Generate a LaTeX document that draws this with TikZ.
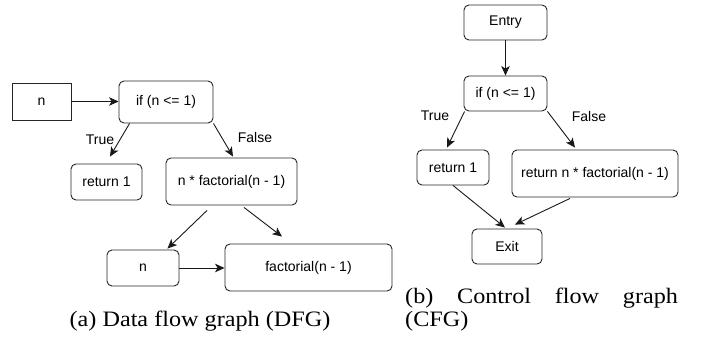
\documentclass[tikz,border=0pt]{standalone}
\usepackage{fontspec}
\usepackage{graphicx}
\setmainfont{Liberation Serif}
\newfontfamily\boxfont{Liberation Sans}
\usetikzlibrary{arrows.meta}
\tikzset{
  blk/.style={draw=black!85, line width=0.9pt, rounded corners=5pt, inner sep=0pt, align=center,
     font=\boxfont\fontsize{14}{16}\selectfont},
  sqblk/.style={blk, rounded corners=0pt},
  arr/.style={draw=black!90, line width=0.9pt, -{Stealth[length=9.5pt,width=8.5pt,inset=2.5pt]}},
  lbl/.style={font=\boxfont\fontsize{14}{16}\selectfont, inner sep=0pt},
  captxt/.style={font=\fontsize{22}{24}\selectfont, inner sep=0pt}
}
\begin{document}
\begin{tikzpicture}[x=1pt,y=-1pt]
\useasboundingbox[fill=white] (0,0) rectangle (706,337);
% DFG
\node[sqblk, minimum width=59pt, minimum height=37pt] (n1) at (41.5,101.5) {n};
\node[blk, minimum width=94pt, minimum height=42pt] (if1) at (166,102) {if (n <= 1)};
\node[blk, minimum width=71pt, minimum height=36pt] (ret1) at (106.5,182) {return 1};
\node[blk, minimum width=131pt, minimum height=47pt] (mul) at (231.5,181.5) {n * factorial(n - 1)};
\node[blk, minimum width=72pt, minimum height=36pt] (n2) at (143,268) {n};
\node[blk, minimum width=167pt, minimum height=47pt] (fact) at (308.5,267.5) {factorial(n - 1)};
\draw[arr] (n1.east) -- (if1.west |- n1.east);
\draw[arr] ([xshift=11pt]if1.south west) -- ([xshift=3.5pt,yshift=7pt]ret1.north);
\draw[arr] (if1.south east) -- ([xshift=1.5pt,yshift=1pt]mul.north);
\draw[arr] ([xshift=-24.5pt,yshift=-5pt]mul.south) -- ([xshift=-12pt,yshift=1pt]n2.north east);
\draw[arr] ([xshift=12.5pt,yshift=-2pt]mul.south) -- ([xshift=-26.5pt,yshift=7pt]fact.north);
\draw[arr] (n2.east) -- (fact.west |- n2.east);
\node[lbl] (t1) at (100,140) {True};
\node[lbl] (f1) at (255,137) {False};
% CFG
\node[blk, minimum width=83pt, minimum height=35pt] (entry) at (505.5,22.5) {Entry};
\node[blk, minimum width=83pt, minimum height=35pt] (if2) at (505.5,93.5) {if (n <= 1)};
\node[blk, minimum width=72pt, minimum height=35pt] (ret2) at (453,167.5) {return 1};
\node[blk, minimum width=166pt, minimum height=47pt] (retn) at (595,173.5) {return n * factorial(n - 1)};
\node[blk, minimum width=70pt, minimum height=35pt] (exit) at (507,246.5) {Exit};
\draw[arr] (entry.south) -- (if2.north);
\draw[arr] ([xshift=1pt]if2.south west) -- ([xshift=-6pt,yshift=2pt]ret2.north);
\draw[arr] (if2.south east) -- ([xshift=-20pt,yshift=2pt]retn.north);
\draw[arr] (ret2.south) -- ([xshift=-2pt,yshift=1pt]exit.north);
\draw[arr] ([xshift=-25pt,yshift=-1pt]retn.south) -- ([xshift=8pt,yshift=4pt]exit.north);
\node[lbl] (t2) at (435,116) {True};
\node[lbl] (f2) at (589,116) {False};
% captions
\node[captxt, anchor=base] (capa) at (200,326) {\scalebox{1.1}[1]{(a) Data flow graph (DFG)}};
\node[captxt, anchor=base west] (capb1) at (405,303) {\scalebox{1.1}[1]{\makebox[248pt][s]{(b)\hfill Control\hfill flow\hfill graph}}};
\node[captxt, anchor=base west] (capb2) at (405,326) {\scalebox{1.1}[1]{(CFG)}};
\end{tikzpicture}
\end{document}
